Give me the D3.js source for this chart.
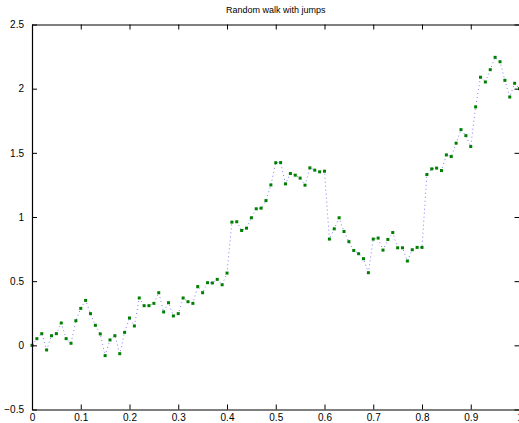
<!DOCTYPE html>
<html>
<head>
<meta charset="utf-8">
<script src="https://cdn.jsdelivr.net/npm/d3@7"></script>
<style>
  html, body { margin: 0; padding: 0; background: #fff; }
  svg { display: block; font-family: "Liberation Sans", Arial, Helvetica, sans-serif; }
</style>
</head>
<body>
<svg id="chart" width="519" height="423"></svg>
<script>
// Random walk sampled at t = 0, 0.01, ..., 1
const tValues = d3.range(101).map(i => i / 100);
const walkValues = [
  0.000, 0.052, 0.091, -0.036, 0.075, 0.091, 0.174, 0.052, 0.016, 0.192,
  0.288, 0.350, 0.247, 0.156, 0.089, -0.080, 0.042, 0.075, -0.065, 0.101,
  0.213, 0.151, 0.369, 0.309, 0.309, 0.327, 0.410, 0.260, 0.332, 0.229,
  0.247, 0.369, 0.340, 0.327, 0.458, 0.410, 0.488, 0.486, 0.514, 0.472,
  0.563, 0.960, 0.963, 0.895, 0.913, 0.994, 1.064, 1.069, 1.128, 1.250,
  1.423, 1.424, 1.258, 1.339, 1.326, 1.303, 1.248, 1.383, 1.365, 1.352,
  1.357, 0.828, 0.908, 0.994, 0.887, 0.808, 0.739, 0.714, 0.675, 0.566,
  0.828, 0.836, 0.742, 0.825, 0.879, 0.760, 0.760, 0.657, 0.745, 0.763,
  0.763, 1.331, 1.375, 1.381, 1.362, 1.484, 1.471, 1.575, 1.681, 1.634,
  1.549, 1.858, 2.089, 2.052, 2.148, 2.244, 2.210, 2.065, 1.935, 2.042,
  2.000
];
const xTicks = [0, 0.1, 0.2, 0.3, 0.4, 0.5, 0.6, 0.7, 0.8, 0.9, 1];
const yTicks = [-0.5, 0, 0.5, 1, 1.5, 2, 2.5];
const chartTitle = "Random walk with jumps";

const svg = d3.select("#chart");
const plotLeft = 32, plotRight = 519.5, plotTop = 24.5, plotBottom = 409.5;

const x = d3.scaleLinear().domain([0, 1]).range([plotLeft, plotRight]);
const y = d3.scaleLinear().domain([-0.5, 2.5]).range([plotBottom, plotTop]);

const points = tValues.map((t, i) => ({ t, v: walkValues[i] }));

// Dotted connecting line
svg.append("path")
  .datum(points)
  .attr("fill", "none")
  .attr("stroke", "#6f6fff")
  .attr("stroke-width", 0.9)
  .attr("stroke-dasharray", "1,3")
  .attr("d", d3.line().x(d => x(d.t)).y(d => y(d.v)));

// Point markers
const ms = 3;
svg.append("g")
  .selectAll("rect")
  .data(points)
  .join("rect")
  .attr("x", d => x(d.t) - ms / 2)
  .attr("y", d => y(d.v) - ms / 2)
  .attr("width", ms)
  .attr("height", ms)
  .attr("fill", "#008000");

// Box axes with inward ticks on all four sides
const tickLen = 5;
const axisBottom = d3.axisBottom(x).tickValues(xTicks).tickSizeInner(-tickLen).tickSizeOuter(0)
  .tickPadding(4).tickFormat(d3.format("~g"));
const axisTop = d3.axisTop(x).tickValues(xTicks).tickSizeInner(-tickLen).tickSizeOuter(0).tickFormat("");
const yFmt = d => d < 0 ? "\u2212" + Math.abs(d) : d3.format("~g")(d);
const axisLeft = d3.axisLeft(y).tickValues(yTicks).tickSizeInner(-tickLen).tickSizeOuter(0)
  .tickPadding(8).tickFormat(yFmt);
const axisRight = d3.axisRight(y).tickValues(yTicks).tickSizeInner(-tickLen).tickSizeOuter(0).tickFormat("");

function style(g) {
  g.selectAll("path.domain").attr("stroke", "#000").attr("stroke-width", 1.2);
  g.selectAll(".tick line").attr("stroke", "#000").attr("stroke-width", 1);
  g.selectAll("text").attr("fill", "#000").attr("font-size", 10)
    .attr("font-family", "'Liberation Sans', Arial, Helvetica, sans-serif");
}

svg.append("g").attr("transform", `translate(0,${plotBottom})`).call(axisBottom).call(style);
svg.append("g").attr("transform", `translate(0,${plotTop})`).call(axisTop).call(style);
svg.append("g").attr("transform", `translate(${plotLeft},0)`).call(axisLeft).call(style);
svg.append("g").attr("transform", `translate(${plotRight},0)`).call(axisRight).call(style);

svg.append("text")
  .attr("x", (plotLeft + plotRight) / 2)
  .attr("y", 13)
  .attr("text-anchor", "middle")
  .attr("font-size", 9)
  .attr("fill", "#000")
  .text(chartTitle);
</script>
</body>
</html>
